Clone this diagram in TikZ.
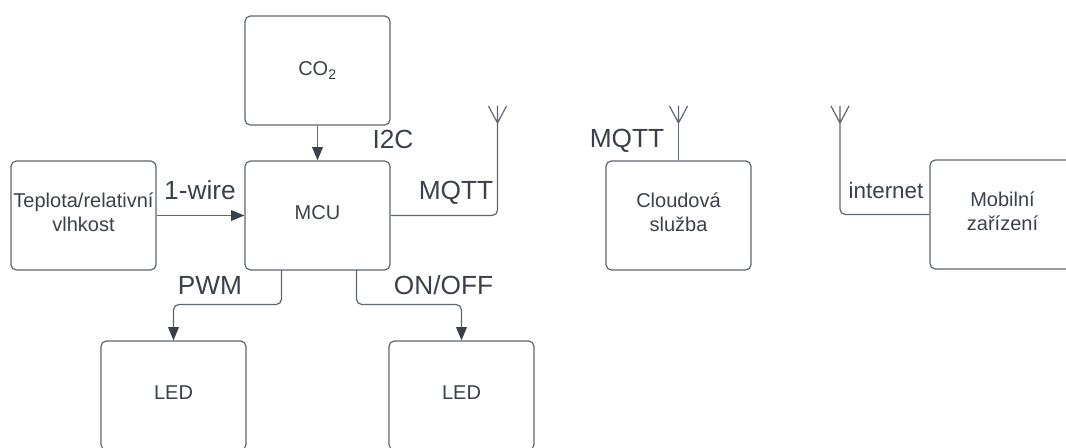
\documentclass[tikz,border=0pt]{standalone}
\usepackage{fontspec}
\setmainfont{Liberation Sans}
\usetikzlibrary{arrows.meta}
\definecolor{linegray}{HTML}{5E6670}
\definecolor{textgray}{HTML}{3A414A}
\tikzset{
  block/.style={draw=linegray,line width=0.9pt,rounded corners=4pt,inner sep=0pt,minimum width=108.75pt,minimum height=81.75pt,align=center,text=textgray,font=\fontsize{15}{18}\selectfont},
  lifted/.style={block,text depth=4.5pt},
  wire/.style={draw=linegray,line width=0.9pt,rounded corners=4pt},
  arrow/.style={wire,-{Triangle[length=10pt,width=8pt,color=textgray]}},
  tag/.style={text=textgray,inner sep=0pt,font=\fontsize{19.7}{22}\selectfont},
  smalltag/.style={text=textgray,inner sep=0pt,font=\fontsize{16.8}{20}\selectfont}
}
\begin{document}
\begin{tikzpicture}[x=0.75pt,y=-0.75pt]
\useasboundingbox (0,0) rectangle (1066,447);
\node[block] (CO) at (317.5,70.5) {CO\textsubscript{2}};
\node[lifted] (MCU) at (317.5,215.5) {MCU};
\node[lifted] (TH) at (83.5,215.5) {Teplota/relativní\\vlhkost};
\node[lifted] (LEDA) at (173.5,395.5) {LED};
\node[lifted] (LEDB) at (461.5,395.5) {LED};
\node[lifted] (CL) at (678.5,215.5) {Cloudová\\služba};
\node[lifted] (MOB) at (1002.5,214.5) {Mobilní\\zařízení};
\coordinate (PW) at (281.5,270);
\coordinate (OO) at (356.5,270);
\coordinate (ANTA) at (497.5,123);
\coordinate (ANTB) at (678.5,123);
\coordinate (ANTC) at (840,123);
\node[tag] (I2C) at (393,139) {I2C};
\node[tag] (W1) at (200,190) {1-wire};
\node[tag] (MQA) at (456,193) {MQTT};
\node[tag] (MQB) at (627,141) {MQTT};
\node[smalltag] (NET) at (886,190) {internet};
\node[tag] (PWMT) at (210,285) {PWM};
\node[tag] (ONOFF) at (443.5,285) {ON/OFF};
\path[arrow] (CO) -- (MCU);
\path[arrow] (TH) -- (MCU);
\path[arrow] (PW) -- ++(0,34.5) -| (LEDA);
\path[arrow] (OO) -- ++(0,34.5) -| (LEDB);
\path[wire] (MCU) -| (ANTA);
\path[wire] (CL) -- (ANTB);
\path[wire] (MOB.west |- 0,214.5) -| (ANTC);
\foreach \ant in {ANTA,ANTB,ANTC}
  \path[wire] (\ant) -- ++(-9,-17) (\ant) -- ++(9,-17) (\ant) -- ++(0,-17);
\end{tikzpicture}
\end{document}
